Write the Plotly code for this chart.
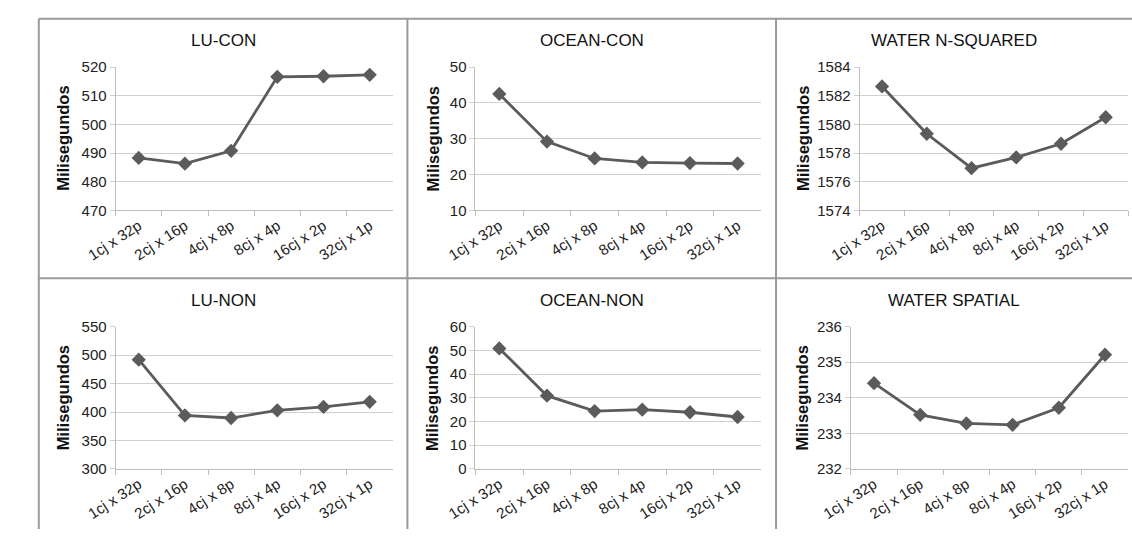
import plotly.graph_objects as go

W, H = 1132, 537

categories = ["1cj x 32p", "2cj x 16p", "4cj x 8p", "8cj x 4p", "16cj x 2p", "32cj x 1p"]

titles = ["LU-CON", "OCEAN-CON", "WATER N-SQUARED", "LU-NON", "OCEAN-NON", "WATER SPATIAL"]

lu_con = [488.3, 486.3, 490.8, 516.6, 516.8, 517.3]
ocean_con = [42.5, 29.2, 24.5, 23.4, 23.2, 23.1]
water_nsq = [1582.65, 1579.35, 1576.95, 1577.7, 1578.65, 1580.5]
lu_non = [492, 394, 389.5, 403, 409, 418]
ocean_non = [50.8, 30.9, 24.4, 25.0, 23.9, 21.9]
water_spatial = [234.41, 233.52, 233.28, 233.24, 233.72, 235.21]

series = [lu_con, ocean_con, water_nsq, lu_non, ocean_non, water_spatial]
y_ranges = [(470, 520, 10), (10, 50, 10), (1574, 1584, 2), (300, 550, 50), (0, 60, 10), (232, 236, 1)]

# plot areas in pixels: (x0, x1, ytop, ybottom)
areas = [
    (87, 372, 60, 208),
    (457, 751, 60, 208),
    (852, 1128, 60, 208),
    (87, 372, 328, 475),
    (457, 751, 328, 475),
    (843, 1128, 328, 475),
]
title_pos = [(197.5, 33), (576.5, 33), (949, 33), (197.5, 301), (576.5, 301), (949, 301)]
ytitle_pos = [(33, 134), (413, 134), (793, 134), (33, 402), (413, 402), (793, 402)]

def px(x):
    return x / W

def py(y):
    return 1 - y / H

fig = go.Figure()
line_col = "#5b5b5b"
font = "Liberation Sans, Arial, sans-serif"

annotations = []
for i in range(6):
    n = "" if i == 0 else str(i + 1)
    x0, x1, yt, yb = areas[i]
    lo, hi, dt = y_ranges[i]
    fig.add_trace(go.Scatter(
        x=categories, y=series[i], mode="lines+markers",
        line=dict(color=line_col, width=2.8),
        marker=dict(symbol="diamond", size=11, color=line_col),
        xaxis="x" + n, yaxis="y" + n, showlegend=False, hoverinfo="skip",
    ))
    fig.layout["xaxis" + n] = dict(
        domain=[px(x0), px(x1)], anchor="y" + n, type="category",
        range=[-0.5, 5.5], tickson="boundaries", ticks="outside", ticklen=5,
        tickcolor="#bdbdbd", showline=True, linecolor="#bdbdbd", linewidth=1,
        showgrid=False, tickangle=-33, zeroline=False,
        tickfont=dict(family=font, size=15, color="#222"),
    )
    fig.layout["yaxis" + n] = dict(
        domain=[py(yb), py(yt)], anchor="x" + n, range=[lo, hi], dtick=dt,
        tick0=lo, ticks="outside", ticklen=5, tickcolor="#d0d0d0",
        showline=True, linecolor="#bdbdbd", linewidth=1,
        showgrid=True, gridcolor="#d0d0d0", gridwidth=1, zeroline=False,
        tickfont=dict(family=font, size=15, color="#222"),
    )
    tx, ty = title_pos[i]
    annotations.append(dict(x=px(tx), y=py(ty), xref="paper", yref="paper",
                            text=titles[i], showarrow=False, xanchor="center", yanchor="middle",
                            font=dict(family=font, size=17, color="#111")))
    yx, yy = ytitle_pos[i]
    annotations.append(dict(x=px(yx), y=py(yy), xref="paper", yref="paper",
                            text="<b>Milisegundos</b>", showarrow=False, textangle=-90,
                            xanchor="center", yanchor="middle",
                            font=dict(family=font, size=16.5, color="#111")))

shapes = []
border = dict(color="#9a9a9a", width=2)
shapes.append(dict(type="line", xref="paper", yref="paper", x0=px(8), x1=1, y0=py(10), y1=py(10), line=border))
shapes.append(dict(type="line", xref="paper", yref="paper", x0=px(8), x1=1, y0=py(278), y1=py(278), line=border))
for xv in (8, 387, 766):
    shapes.append(dict(type="line", xref="paper", yref="paper", x0=px(xv), x1=px(xv), y0=py(10), y1=0, line=border))

fig.update_layout(
    width=W, height=H, margin=dict(l=0, r=0, t=0, b=0),
    paper_bgcolor="white", plot_bgcolor="white",
    annotations=annotations, shapes=shapes, showlegend=False,
    hovermode=False,
)

post = ("document.documentElement.style.margin='0';document.body.style.margin='0';"
        "document.body.style.padding='0';document.documentElement.style.overflow='hidden';"
        "document.body.style.overflow='hidden';")
fig.write_html("out.html", post_script=post, config={"displayModeBar": False})
